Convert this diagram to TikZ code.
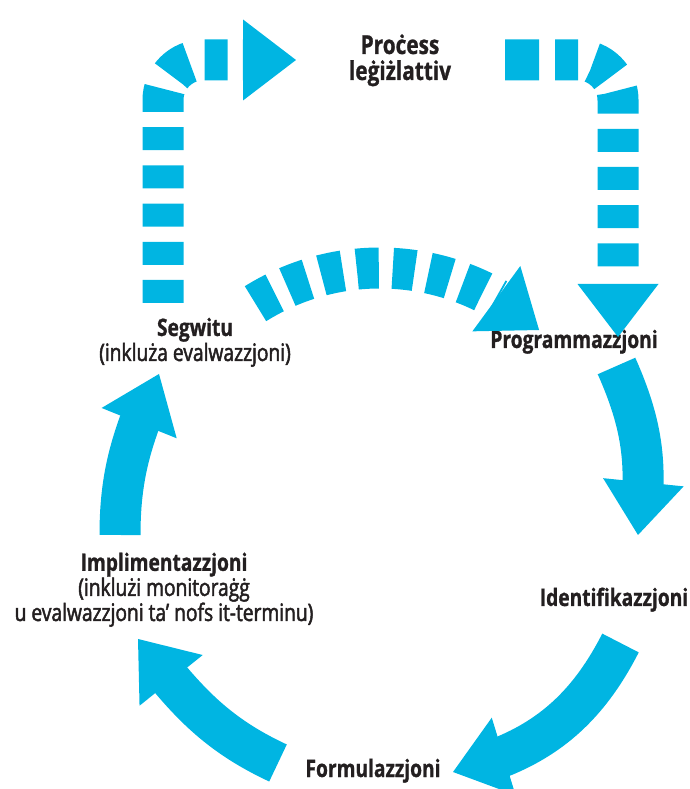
\documentclass[tikz,border=0pt]{standalone}
\usepackage{fontspec}
\setmainfont{Open Sans}[FakeStretch=0.8, UprightFeatures={FakeBold=2}, BoldFeatures={FakeBold=1}]
\usetikzlibrary{arrows.meta,bending}
\definecolor{cyc}{RGB}{0,181,226}
\definecolor{ink}{RGB}{35,31,32}

\begin{document}
\begin{tikzpicture}[x=1pt, y=1pt, stage/.style={text=ink, font=\bfseries\fontsize{24}{22}\selectfont, align=center, inner sep=0pt, anchor=base}, big/.style={draw=cyc, line width=41pt, -{Triangle[length=53pt, width=81pt, line width=0pt]}}, dots/.style={big, dash pattern=on 23pt off 15.2pt}]
            \useasboundingbox (0,0) rectangle (690,789);
            \clip (0,0) rectangle (690,789);
            % nodes
            \node[stage, font=\bfseries\fontsize{26}{26}\selectfont] (proc) at (400,709) {Proċess\\leġiżlattiv};
            \node[stage] (segw) at (195,428) {Segwitu\\\mdseries(inkluża evalwazzjoni)};
            \node[stage] (prog) at (574,441) {Programmazzjoni};
            \node[stage] (ident) at (614,183) {Identifikazzjoni};
            \node[stage] (form) at (373,12) {Formulazzjoni};
            \node[stage] (impl) at (164,168) {Implimentazzjoni\\\mdseries(inklużi monitoraġġ\\\mdseries u evalwazzjoni ta’ nofs it-terminu)};
            % ends of the arrows
            \coordinate (prog-out) at (616.5,423);
            \coordinate (ident-in) at (638,254);
            \coordinate (ident-out) at (620.5,146);
            \coordinate (form-in) at (453,17);
            \coordinate (form-out) at (278,26);
            \coordinate (impl-in) at (138,150);
            \coordinate (impl-out) at (120,254);
            \coordinate (segw-in) at (159,415);
            \coordinate (segw-out) at (255.5,485.3);
            \coordinate (segw-up) at (163,486);
            \coordinate (proc-in) at (296,729);
            \coordinate (proc-out) at (505,729);
            \coordinate (prog-in) at (618,452);
            % edges
            \draw [big] (prog-out) to[out=-66, in=81] (ident-in);
            \draw [big] (ident-out) to[out=-117, in=13] (form-in);
            \draw [big] (form-out) to[out=155, in=-52] (impl-in);
            \draw [big] (impl-out) to[out=90, in=-113] (segw-in);
            \draw [dots, dash pattern=on 22pt off 14pt] (segw-out) arc[start angle=122, end angle=47.4, radius=235];
            \draw [dots, rounded corners=40pt] (segw-up) |- (proc-in);
            \draw [dots, rounded corners=40pt, dash pattern=on 34pt off 16pt on 23pt off 15.2pt on 23pt off 15.2pt on 23pt off 15.2pt on 23pt off 15.2pt on 23pt off 15.2pt on 23pt off 15.2pt on 23pt off 40pt] (proc-out) -| (prog-in);
        \end{tikzpicture}
\end{document}
